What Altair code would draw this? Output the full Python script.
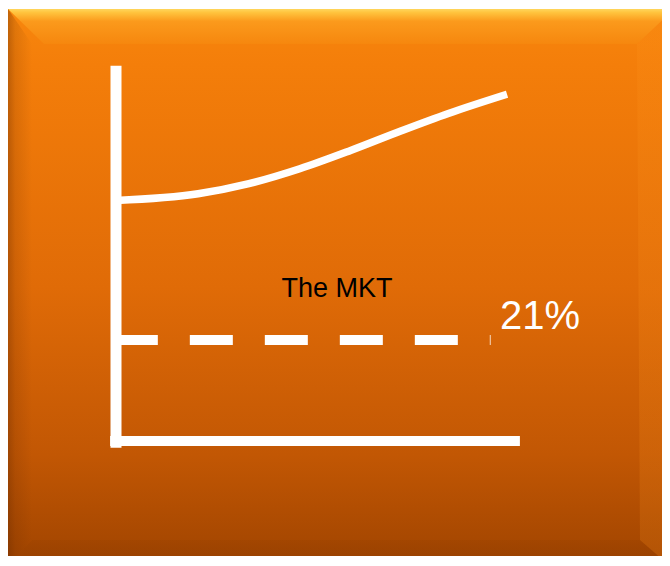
import altair as alt
import pandas as pd

# ---------------- data ----------------
curve_x = [0, 2.1, 3.4, 4.7, 6.0, 7.3, 8.5, 10.0]
curve_y = [50.0, 51.4, 53.5, 56.6, 60.4, 64.5, 68.1, 72.1]

market_value = 21
market_label = "21%"
market_title = "The MKT"

axis_x_start = -0.15
axis_x_end = 10.33
axis_y_start = -1.4
axis_y_end = 78.0
dash_x_start = -0.03
dash_x_end = 9.58

title_pos = [5.65, 29.9]
label_pos = [9.82, 23.2]

# ---------------- layout ----------------
W, H = 654, 548          # drawable area that fits inside the page
BW, BH = 662, 558        # full panel size (cropped at the page edge)
X_DOMAIN = [-108 / 39.1, (W - 108) / 39.1]
Y_DOMAIN = [-(H - 433) / 4.81, 433 / 4.81]

xs = alt.Scale(domain=X_DOMAIN, nice=False, zero=False)
ys = alt.Scale(domain=Y_DOMAIN, nice=False, zero=False)
pxs = alt.Scale(domain=[0, W], nice=False, zero=False)
pys = alt.Scale(domain=[H, 0], nice=False, zero=False)

FONT = "Liberation Sans"
WHITE = "#FFFFFF"


def grad(stops, horizontal=False):
    return alt.Gradient(
        gradient="linear",
        stops=[alt.GradientStop(color=c, offset=o) for o, c in stops],
        x1=0, y1=0,
        x2=1 if horizontal else 0,
        y2=0 if horizontal else 1,
    )


# background panel
bg_df = pd.DataFrame({"px": [0], "px2": [BW], "py": [1], "py2": [BH]})
background = alt.Chart(bg_df).mark_rect(
    fill=grad([(0, "#F8870D"), (0.1, "#F47E0A"), (0.5, "#E06B07"),
               (0.8, "#C25704"), (1, "#A04400")]),
    opacity=1, clip=True,
).encode(
    x=alt.X("px:Q", scale=pxs, axis=None), x2="px2:Q",
    y=alt.Y("py:Q", scale=pys, axis=None), y2="py2:Q",
)

# bevel frame (decoration, pixel units)
B = 36
top_df = pd.DataFrame({"px": [0, B, BW - 33, BW], "py": [1, 1, 1, 1], "py2": [1, B, B, 5]})
bot_df = pd.DataFrame({"px": [0, 24, BW - 30, BW], "py": [BH] * 4, "py2": [BH, BH - 26, BH - 26, BH]})
left_df = pd.DataFrame({"py": [1, B, BH - 26, BH], "px": [0] * 4, "px2": [0, 24, 24, 0]})
right_df = pd.DataFrame({"py": [5, B, BH - 26, BH], "px": [BW] * 4, "px2": [BW, BW - 33, BW - 30, BW]})

top_bevel = alt.Chart(top_df).mark_area(
    orient="vertical", opacity=1, clip=True,
    fill=grad([(0, "#FFD65C"), (0.1, "#FFC43E"), (0.35, "#FB9A1C"), (1, "#F6870E")]),
).encode(
    x=alt.X("px:Q", scale=pxs, axis=None),
    y=alt.Y("py:Q", scale=pys, axis=None),
    y2="py2:Q",
)
bottom_bevel = alt.Chart(bot_df).mark_area(
    orient="vertical", opacity=1, clip=True,
    fill=grad([(0, "rgba(120,50,0,0.10)"), (1, "rgba(120,50,0,0.25)")]),
).encode(
    x=alt.X("px:Q", scale=pxs, axis=None),
    y=alt.Y("py:Q", scale=pys, axis=None),
    y2="py2:Q",
)
left_bevel = alt.Chart(left_df).mark_area(
    orient="horizontal", opacity=1, clip=True,
    fill=grad([(0, "rgba(90,35,0,0.35)"), (0.3, "rgba(90,35,0,0.15)"),
               (1, "rgba(90,35,0,0.0)")], horizontal=True),
).encode(
    y=alt.Y("py:Q", scale=pys, axis=None),
    x=alt.X("px:Q", scale=pxs, axis=None),
    x2="px2:Q",
)
right_bevel = alt.Chart(right_df).mark_area(
    orient="horizontal", opacity=1, clip=True,
    fill=grad([(0, "rgba(255,150,30,0.18)"), (1, "rgba(255,150,30,0.18)")]),
).encode(
    y=alt.Y("py:Q", scale=pys, axis=None),
    x=alt.X("px:Q", scale=pxs, axis=None),
    x2="px2:Q",
)

# ---------------- data marks ----------------
curve_df = pd.DataFrame({"x": curve_x, "y": curve_y})
curve = alt.Chart(curve_df).mark_line(
    color=WHITE, strokeWidth=7.5, interpolate="monotone", strokeCap="butt"
).encode(
    x=alt.X("x:Q", scale=xs, axis=None),
    y=alt.Y("y:Q", scale=ys, axis=None),
)

dash_df = pd.DataFrame({"y": [market_value], "x": [dash_x_start], "x2": [dash_x_end]})
dashed = alt.Chart(dash_df).mark_rule(
    color=WHITE, strokeWidth=10, strokeDash=[43, 32], strokeCap="butt"
).encode(
    y=alt.Y("y:Q", scale=ys, axis=None),
    x=alt.X("x:Q", scale=xs, axis=None),
    x2="x2:Q",
)

vaxis_df = pd.DataFrame({"x": [0], "y": [axis_y_start], "y2": [axis_y_end]})
vaxis = alt.Chart(vaxis_df).mark_rule(color=WHITE, strokeWidth=11, strokeCap="butt").encode(
    x=alt.X("x:Q", scale=xs, axis=None),
    y=alt.Y("y:Q", scale=ys, axis=None),
    y2="y2:Q",
)

haxis_df = pd.DataFrame({"y": [0], "x": [axis_x_start], "x2": [axis_x_end]})
haxis = alt.Chart(haxis_df).mark_rule(color=WHITE, strokeWidth=10, strokeCap="butt").encode(
    y=alt.Y("y:Q", scale=ys, axis=None),
    x=alt.X("x:Q", scale=xs, axis=None),
    x2="x2:Q",
)

title_df = pd.DataFrame({"x": [title_pos[0]], "y": [title_pos[1]], "t": [market_title]})
title_text = alt.Chart(title_df).mark_text(
    font=FONT, fontSize=27, color="#000000", align="center", baseline="alphabetic"
).encode(
    x=alt.X("x:Q", scale=xs, axis=None),
    y=alt.Y("y:Q", scale=ys, axis=None),
    text="t:N",
)

label_df = pd.DataFrame({"x": [label_pos[0]], "y": [label_pos[1]], "t": [market_label]})
label_text = alt.Chart(label_df).mark_text(
    font=FONT, fontSize=40, color=WHITE, align="left", baseline="alphabetic"
).encode(
    x=alt.X("x:Q", scale=xs, axis=None),
    y=alt.Y("y:Q", scale=ys, axis=None),
    text="t:N",
)

chart = alt.layer(
    background, top_bevel, bottom_bevel, left_bevel, right_bevel,
    curve, dashed, vaxis, haxis, title_text, label_text,
).resolve_scale(
    x="independent", y="independent"
).properties(
    width=W, height=H,
    autosize=alt.AutoSizeParams(type="none"),
    padding=0,
    background="#FFFFFF",
).configure_view(stroke=None)

chart.save("out.html", embed_options={"renderer": "svg", "actions": False})
